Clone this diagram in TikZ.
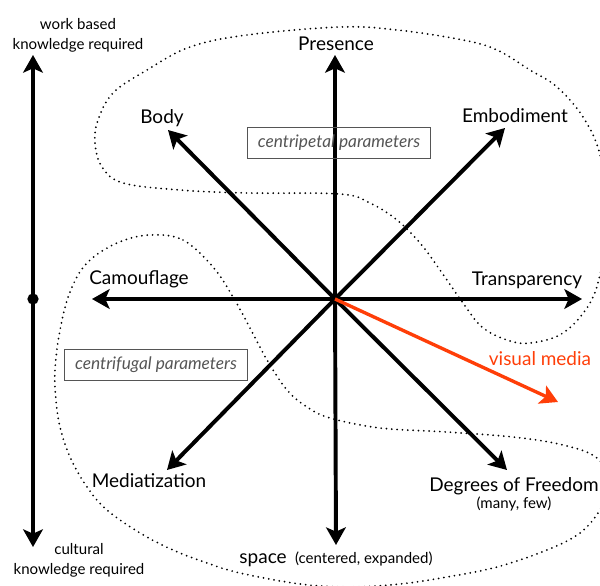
\documentclass[tikz,border=0pt]{standalone}
\usepackage{fontspec}
\setmainfont{Lato}
\usetikzlibrary{arrows.meta,positioning}

\definecolor{mediared}{RGB}{255,62,8}
\definecolor{boxgray}{RGB}{85,85,85}

\begin{document}
\begin{tikzpicture}[x=0.025cm,y=-0.025cm,
		axis/.style={line width=2.8pt,-{Stealth[length=12.5pt,width=14pt,inset=3pt]}},
		mediaarrow/.style={axis,line width=2.4pt,draw=mediared,color=mediared},
		region/.style={line width=1.4pt,line cap=round,dash pattern=on 0pt off 3.8pt},
		axislabel/.style={font=\fontsize{13.5}{15}\selectfont,inner sep=0pt,anchor=base},
		smalllabel/.style={font=\fontsize{10.7}{14}\selectfont,align=center,inner sep=0pt},
		parambox/.style={draw=boxgray,line width=0.6pt,text=boxgray,font=\fontsize{12.3}{14}\selectfont\itshape,minimum width=130pt,minimum height=22.5pt,inner sep=2pt},
		dotnode/.style={circle,fill=black,inner sep=0pt,minimum size=8pt}]
		\useasboundingbox (0,0) rectangle (600,586);

		% dotted regions
		\begin{scope}
			\clip (0,0) rectangle (600,586);
			\draw[region] plot[smooth cycle,tension=0.6] coordinates {
				(340,27) (247,35) (190,47) (147,70) (113,93) (98,120) (95,143) (102,167) (123,183) (180,190)
				(247,193) (340,194) (370,203) (397,220) (420,243) (440,270) (463,303) (482,327) (507,340)
				(530,343) (563,333) (590,303) (602,265) (607,215) (600,155) (583,117) (557,87) (530,70)
				(497,50) (463,40) (397,30)};
			\draw[region] plot[smooth cycle,tension=0.6] coordinates {
				(150,235) (183,240) (213,267) (233,297) (250,328) (267,360) (287,390) (307,407) (330,418)
				(380,428) (447,432) (513,437) (563,445) (597,458) (612,485) (600,510) (580,533) (547,550)
				(497,567) (447,577) (400,584) (350,587) (300,584) (240,573) (207,563) (173,550) (140,533)
				(107,510) (87,487) (70,457) (60,427) (56,400) (55,370) (60,330) (70,292) (87,263) (117,243)};
		\end{scope}

		% axes
		\coordinate (o) at (335,299);
		\coordinate (presencetip) at (335,55);
		\coordinate (spacetip) at (336,545);
		\coordinate (camotip) at (92,299);
		\coordinate (transtip) at (582,299);
		\coordinate (bodytip) at (168,130);
		\coordinate (embodytip) at (505,128);
		\coordinate (mediatip) at (167,470);
		\coordinate (freedomtip) at (507,470);
		\coordinate (visualtip) at (558,402);

		\draw[axis] (o) -- (presencetip);
		\draw[axis] (o) -- (spacetip);
		\draw[axis] (o) -- (camotip);
		\draw[axis] (o) -- (transtip);
		\draw[axis] (o) -- (bodytip);
		\draw[axis] (o) -- (embodytip);
		\draw[axis] (o) -- (mediatip);
		\draw[axis] (o) -- (freedomtip);
		\draw[mediaarrow] (o) -- (visualtip);

		\node[axislabel] (presence) at (336,50) {Presence};
		\node[axislabel] (body) at (162,123) {Body};
		\node[axislabel] (embodiment) at (515,122) {Embodiment};
		\node[axislabel] (camouflage) at (139,284) {Camouflage};
		\node[axislabel] (transparency) at (527,285) {Transparency};
		\node[axislabel] (mediatization) at (149,487) {Mediatization};
		\node[axislabel] (freedom) at (514,491) {Degrees of Freedom};
		\node[smalllabel,anchor=base] (fewmany) at (514,508) {(many, few)};
		\node[axislabel] (space) at (336,563) {space\hspace{6pt}{\fontsize{10.7}{14}\selectfont(centered, expanded)}};
		\node[axislabel,text=mediared] (visual) at (540,365) {visual media};

		\node[parambox] (centripetal) at (339,143) {centripetal parameters};
		\node[parambox] (centrifugal) at (156,365) {centrifugal parameters};

		% knowledge scale
		\node[dotnode] (mid) at (33,299) {};
		\coordinate (worktip) at (33,55);
		\coordinate (culturetip) at (33,547);
		\draw[axis] (mid.center) -- (worktip);
		\draw[axis] (mid.center) -- (culturetip);
		\node[smalllabel] (work) at (78,35) {work based\\knowledge required};
		\node[smalllabel] (culture) at (79,560) {cultural\\knowledge required};
	\end{tikzpicture}
\end{document}
